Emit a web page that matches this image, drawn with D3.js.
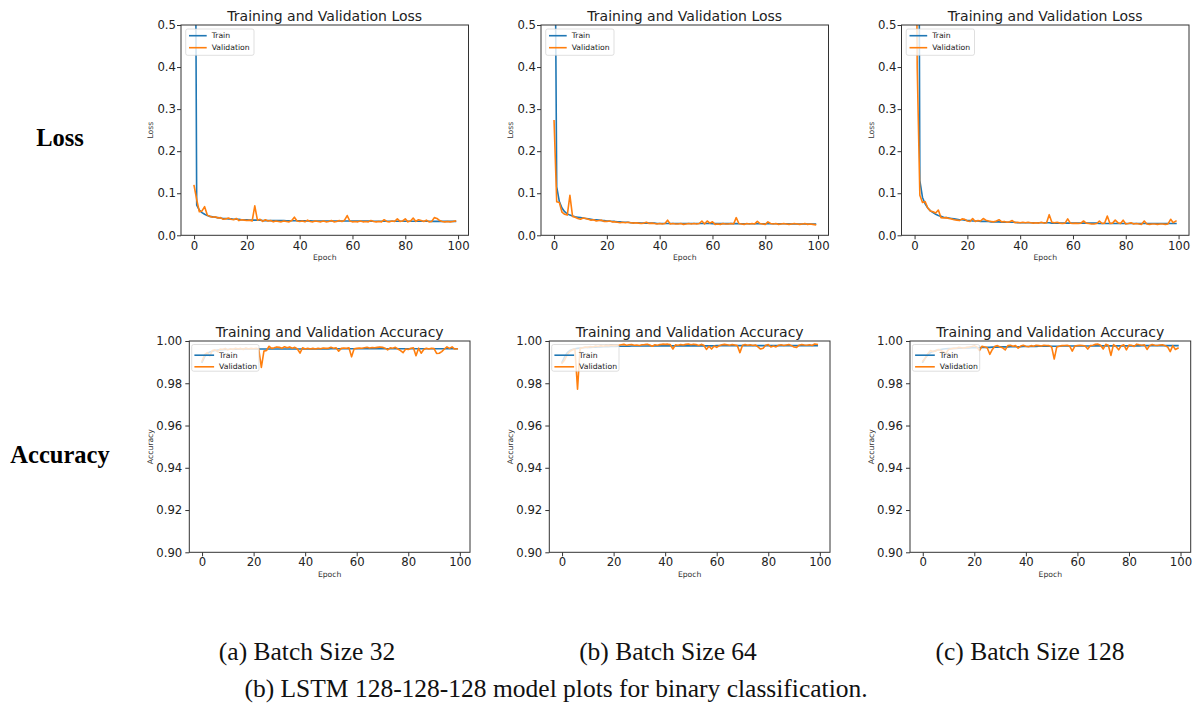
<!DOCTYPE html>
<html>
<head>
<meta charset="utf-8">
<script src="https://cdn.jsdelivr.net/npm/d3@7"></script>
<style>
html,body{margin:0;padding:0;background:#fff;}
svg{display:block;}
</style>
</head>
<body>
<svg id="chart" width="1202" height="708"></svg>
<script>
// ---------------- DATA ----------------
const epochs = d3.range(100);
const xTicks = [0, 20, 40, 60, 80, 100];
const lossTicks = [0.0, 0.1, 0.2, 0.3, 0.4, 0.5];
const accTicks = [0.90, 0.92, 0.94, 0.96, 0.98, 1.00];
const seriesNames = ["Train", "Validation"];
const batchCaptions = ["(a) Batch Size 32", "(b) Batch Size 64", "(c) Batch Size 128"];
const rowLabels = ["Loss", "Accuracy"];
const figureCaption = "(b) LSTM 128-128-128 model plots for binary classification.";

// Loss — batch 32
const lossTrainA = [1.50,0.072,0.060,0.054,0.050,0.047,0.045,0.044,0.043,0.042,
0.041,0.040,0.040,0.039,0.039,0.038,0.038,0.038,0.037,0.037,
0.037,0.036,0.036,0.036,0.036,0.036,0.035,0.035,0.035,0.035,
0.035,0.035,0.035,0.035,0.035,0.0345,0.0345,0.0345,0.0345,0.0345,
0.0342,0.0342,0.0342,0.0342,0.0342,0.034,0.034,0.034,0.034,0.034,
0.034,0.034,0.034,0.034,0.034,0.034,0.034,0.034,0.034,0.034,
0.0338,0.0338,0.0338,0.0338,0.0338,0.0338,0.0338,0.0338,0.0335,0.0335,
0.0335,0.0335,0.0335,0.0335,0.0335,0.0335,0.0335,0.0335,0.0335,0.0335,
0.0333,0.0333,0.0333,0.0333,0.0333,0.0333,0.0333,0.0333,0.0333,0.0333,
0.033,0.033,0.033,0.033,0.033,0.033,0.033,0.033,0.033,0.033];
const lossValA = [0.118,0.085,0.056,0.058,0.068,0.048,0.045,0.043,0.044,0.041,
0.042,0.038,0.039,0.041,0.038,0.037,0.040,0.035,0.037,0.036,
0.035,0.036,0.034,0.070,0.036,0.038,0.033,0.037,0.034,0.035,
0.032,0.034,0.033,0.032,0.034,0.033,0.032,0.035,0.043,0.034,
0.033,0.034,0.032,0.036,0.033,0.032,0.034,0.033,0.032,0.034,
0.032,0.033,0.035,0.032,0.033,0.035,0.033,0.036,0.047,0.034,
0.032,0.033,0.032,0.034,0.032,0.033,0.032,0.035,0.033,0.032,
0.033,0.032,0.037,0.033,0.032,0.034,0.033,0.039,0.033,0.034,
0.039,0.032,0.034,0.041,0.033,0.037,0.035,0.033,0.036,0.032,
0.033,0.042,0.040,0.035,0.033,0.032,0.033,0.032,0.033,0.034];

// Loss — batch 64
const lossTrainB = [1.10,0.115,0.080,0.065,0.056,0.051,0.048,0.046,0.044,0.043,
0.042,0.041,0.040,0.039,0.038,0.037,0.037,0.036,0.035,0.035,
0.034,0.034,0.033,0.033,0.032,0.032,0.031,0.031,0.031,0.030,
0.030,0.030,0.030,0.029,0.029,0.029,0.029,0.029,0.029,0.028,
0.028,0.028,0.028,0.028,0.028,0.028,0.028,0.028,0.028,0.028,
0.028,0.028,0.028,0.028,0.028,0.028,0.028,0.028,0.028,0.028,
0.0278,0.0278,0.0278,0.0278,0.0278,0.0278,0.0278,0.0278,0.0278,0.0278,
0.0275,0.0275,0.0275,0.0275,0.0275,0.0275,0.0275,0.0275,0.0275,0.0275,
0.0273,0.0273,0.0273,0.0273,0.0273,0.0273,0.0273,0.0273,0.0273,0.0273,
0.027,0.027,0.027,0.027,0.027,0.027,0.027,0.027,0.027,0.027];
const lossValB = [0.272,0.080,0.078,0.055,0.050,0.048,0.095,0.045,0.043,0.040,
0.038,0.041,0.040,0.038,0.036,0.037,0.034,0.035,0.036,0.033,
0.033,0.034,0.032,0.032,0.031,0.030,0.031,0.030,0.031,0.030,
0.029,0.030,0.029,0.028,0.029,0.031,0.028,0.029,0.028,0.027,
0.028,0.027,0.028,0.036,0.027,0.028,0.027,0.027,0.028,0.026,
0.027,0.028,0.027,0.028,0.027,0.028,0.034,0.027,0.034,0.029,
0.032,0.026,0.027,0.026,0.028,0.027,0.027,0.028,0.027,0.042,
0.028,0.027,0.026,0.028,0.027,0.028,0.027,0.033,0.028,0.027,
0.026,0.032,0.028,0.027,0.028,0.026,0.027,0.028,0.027,0.026,
0.027,0.028,0.027,0.026,0.027,0.028,0.026,0.027,0.026,0.025];

// Loss — batch 128
const lossTrainC = [5.00,2.00,0.130,0.090,0.075,0.065,0.058,0.054,0.050,0.047,
0.045,0.043,0.042,0.041,0.040,0.039,0.038,0.037,0.037,0.036,
0.035,0.035,0.034,0.034,0.034,0.033,0.033,0.033,0.033,0.032,
0.032,0.032,0.032,0.031,0.031,0.031,0.031,0.031,0.031,0.030,
0.030,0.030,0.030,0.030,0.030,0.030,0.030,0.030,0.030,0.030,
0.030,0.030,0.029,0.029,0.029,0.029,0.029,0.029,0.029,0.029,
0.029,0.029,0.029,0.029,0.029,0.029,0.029,0.029,0.029,0.029,
0.028,0.028,0.028,0.028,0.028,0.028,0.028,0.028,0.028,0.028,
0.028,0.028,0.028,0.028,0.028,0.028,0.028,0.028,0.028,0.028,
0.028,0.028,0.028,0.028,0.028,0.028,0.028,0.028,0.028,0.028];
const lossValC = [1.40,0.40,0.095,0.078,0.080,0.065,0.058,0.056,0.053,0.060,
0.042,0.041,0.042,0.040,0.039,0.037,0.036,0.035,0.039,0.038,
0.034,0.033,0.040,0.033,0.035,0.034,0.040,0.036,0.034,0.033,
0.032,0.034,0.037,0.032,0.033,0.031,0.032,0.035,0.030,0.031,
0.030,0.031,0.030,0.031,0.030,0.029,0.030,0.029,0.031,0.029,
0.030,0.049,0.031,0.030,0.031,0.029,0.028,0.029,0.039,0.029,
0.028,0.029,0.028,0.029,0.034,0.029,0.028,0.027,0.027,0.028,
0.034,0.028,0.029,0.046,0.028,0.029,0.036,0.030,0.028,0.036,
0.027,0.028,0.030,0.027,0.028,0.027,0.026,0.034,0.027,0.026,
0.027,0.027,0.026,0.027,0.027,0.026,0.027,0.038,0.030,0.034];

// Accuracy — batch 32
const accTrainA = [0.9900,0.9925,0.9940,0.9948,0.9952,0.9955,0.9957,0.9958,0.9959,0.9960,
0.9960,0.9961,0.9961,0.9961,0.9961,0.9962,0.9962,0.9962,0.9962,0.9962,
0.9962,0.9962,0.9962,0.9962,0.9962,0.9962,0.9962,0.9962,0.9962,0.9962,
0.9962,0.9962,0.9962,0.9962,0.9962,0.9962,0.9962,0.9962,0.9962,0.9962,
0.9962,0.9962,0.9962,0.9962,0.9962,0.9962,0.9962,0.9962,0.9962,0.9962,
0.9963,0.9963,0.9963,0.9963,0.9963,0.9963,0.9963,0.9963,0.9963,0.9963,
0.9963,0.9963,0.9963,0.9963,0.9963,0.9963,0.9963,0.9963,0.9963,0.9963,
0.9963,0.9963,0.9963,0.9963,0.9963,0.9963,0.9963,0.9963,0.9963,0.9963,
0.9963,0.9963,0.9963,0.9963,0.9963,0.9963,0.9963,0.9963,0.9963,0.9963,
0.9963,0.9963,0.9963,0.9963,0.9963,0.9963,0.9963,0.9963,0.9963,0.9963];
const accValA = [0.9905,0.9935,0.9945,0.9930,0.9955,0.9958,0.9950,0.9962,0.9960,0.9965,
0.9958,0.9963,0.9960,0.9966,0.9962,0.9965,0.9960,0.9967,0.9962,0.9965,
0.9963,0.9966,0.9962,0.9875,0.9952,0.9955,0.9975,0.9965,0.9968,0.9972,
0.9970,0.9966,0.9973,0.9968,0.9972,0.9966,0.9970,0.9962,0.9943,0.9968,
0.9962,0.9966,0.9962,0.9965,0.9962,0.9966,0.9963,0.9967,0.9965,0.9966,
0.9970,0.9966,0.9968,0.9952,0.9965,0.9967,0.9966,0.9968,0.9925,0.9963,
0.9965,0.9967,0.9966,0.9968,0.9970,0.9967,0.9969,0.9968,0.9970,0.9972,
0.9970,0.9966,0.9958,0.9968,0.9966,0.9970,0.9962,0.9955,0.9945,0.9962,
0.9960,0.9966,0.9968,0.9930,0.9966,0.9942,0.9960,0.9966,0.9962,0.9966,
0.9964,0.9941,0.9942,0.9950,0.9962,0.9972,0.9965,0.9972,0.9962,0.9963];

// Accuracy — batch 64
const accTrainB = [0.9900,0.9925,0.9945,0.9955,0.9960,0.9963,0.9965,0.9967,0.9968,0.9969,
0.9970,0.9970,0.9971,0.9971,0.9972,0.9972,0.9973,0.9973,0.9973,0.9974,
0.9974,0.9974,0.9975,0.9975,0.9975,0.9975,0.9975,0.9976,0.9976,0.9976,
0.9976,0.9976,0.9976,0.9976,0.9977,0.9977,0.9977,0.9977,0.9977,0.9977,
0.9977,0.9977,0.9977,0.9977,0.9977,0.9977,0.9977,0.9977,0.9977,0.9977,
0.9977,0.9977,0.9977,0.9977,0.9977,0.9977,0.9977,0.9977,0.9977,0.9977,
0.9978,0.9978,0.9978,0.9978,0.9978,0.9978,0.9978,0.9978,0.9978,0.9978,
0.9978,0.9978,0.9978,0.9978,0.9978,0.9978,0.9978,0.9978,0.9978,0.9978,
0.9978,0.9978,0.9978,0.9978,0.9978,0.9978,0.9978,0.9978,0.9978,0.9978,
0.9978,0.9978,0.9978,0.9978,0.9978,0.9978,0.9978,0.9978,0.9978,0.9978];
const accValB = [0.9895,0.9910,0.9935,0.9950,0.9958,0.9962,0.9772,0.9965,0.9968,0.9972,
0.9970,0.9974,0.9972,0.9976,0.9974,0.9978,0.9975,0.9979,0.9977,0.9980,
0.9978,0.9979,0.9980,0.9982,0.9984,0.9980,0.9982,0.9983,0.9980,0.9981,
0.9979,0.9982,0.9983,0.9985,0.9981,0.9975,0.9982,0.9980,0.9983,0.9985,
0.9984,0.9985,0.9983,0.9962,0.9982,0.9980,0.9983,0.9981,0.9984,0.9986,
0.9982,0.9985,0.9983,0.9979,0.9984,0.9980,0.9960,0.9975,0.9962,0.9976,
0.9970,0.9978,0.9982,0.9984,0.9982,0.9980,0.9983,0.9981,0.9978,0.9945,
0.9980,0.9983,0.9980,0.9982,0.9979,0.9981,0.9972,0.9962,0.9966,0.9980,
0.9983,0.9972,0.9976,0.9972,0.9980,0.9982,0.9979,0.9981,0.9983,0.9978,
0.9972,0.9970,0.9980,0.9983,0.9981,0.9980,0.9982,0.9979,0.9986,0.9984];

// Accuracy — batch 128
const accTrainC = [0.9900,0.9920,0.9935,0.9945,0.9950,0.9955,0.9958,0.9960,0.9962,0.9963,
0.9964,0.9964,0.9965,0.9965,0.9966,0.9966,0.9967,0.9967,0.9967,0.9968,
0.9968,0.9968,0.9969,0.9969,0.9970,0.9970,0.9970,0.9971,0.9971,0.9971,
0.9972,0.9972,0.9972,0.9972,0.9973,0.9973,0.9973,0.9973,0.9973,0.9974,
0.9974,0.9974,0.9974,0.9974,0.9974,0.9975,0.9975,0.9975,0.9975,0.9975,
0.9975,0.9975,0.9975,0.9975,0.9976,0.9976,0.9976,0.9976,0.9976,0.9976,
0.9976,0.9976,0.9976,0.9976,0.9976,0.9976,0.9976,0.9977,0.9977,0.9977,
0.9977,0.9977,0.9977,0.9977,0.9977,0.9977,0.9977,0.9977,0.9977,0.9977,
0.9977,0.9977,0.9977,0.9977,0.9977,0.9978,0.9978,0.9978,0.9978,0.9978,
0.9978,0.9978,0.9978,0.9978,0.9978,0.9978,0.9978,0.9978,0.9978,0.9978];
const accValC = [0.9905,0.9920,0.9940,0.9955,0.9950,0.9952,0.9960,0.9955,0.9948,0.9942,
0.9960,0.9963,0.9965,0.9966,0.9970,0.9968,0.9966,0.9970,0.9972,0.9974,
0.9978,0.9972,0.9955,0.9975,0.9972,0.9968,0.9937,0.9960,0.9975,0.9978,
0.9972,0.9968,0.9958,0.9978,0.9980,0.9975,0.9978,0.9966,0.9976,0.9980,
0.9975,0.9973,0.9978,0.9975,0.9980,0.9978,0.9976,0.9980,0.9979,0.9978,
0.9972,0.9915,0.9972,0.9975,0.9978,0.9979,0.9980,0.9976,0.9952,0.9976,
0.9978,0.9980,0.9979,0.9976,0.9962,0.9978,0.9980,0.9984,0.9985,0.9980,
0.9962,0.9984,0.9980,0.9932,0.9983,0.9974,0.9958,0.9978,0.9982,0.9958,
0.9981,0.9980,0.9974,0.9985,0.9982,0.9980,0.9982,0.9960,0.9978,0.9983,
0.9980,0.9979,0.9981,0.9982,0.9978,0.9972,0.9950,0.9978,0.9960,0.9966];

// ---------------- DRAWING ----------------
const svg = d3.select("#chart");
const colors = ["#1f77b4", "#ff7f0e"];
const tickFont = "'DejaVu Sans', sans-serif";

const rows = [
  { title: "Training and Validation Loss", ylabel: "Loss", ticks: lossTicks, domain: [0, 0.5], fmt: d3.format(".1f"),
    lefts: [181, 541, 901.5], width: 287.5, top: 25, height: 210.3,
    data: [[lossTrainA, lossValA], [lossTrainB, lossValB], [lossTrainC, lossValC]],
    titleBase: 20.5, xPad: 2.2, yPad: 1.0, ylabelOff: 30.3, xlabelBase: 260,
    leg: { dx: 4.7, dy: 4, w: 68.3, h: 26.3, l1: 3.3, l2: 21, tx: 26, r1: 6.7, r2: 18.7 } },
  { title: "Training and Validation Accuracy", ylabel: "Accuracy", ticks: accTicks, domain: [0.9, 1.0], fmt: d3.format(".2f"),
    lefts: [189.3, 549.3, 910], width: 280.7, top: 341, height: 211.3,
    data: [[accTrainA, accValA], [accTrainB, accValB], [accTrainC, accValC]],
    titleBase: 336.7, xPad: 1.0, yPad: 3.0, ylabelOff: 38.6, xlabelBase: 576.7,
    leg: { dx: 2.4, dy: 3.5, w: 67.3, h: 26.7, l1: 2.7, l2: 22.4, tx: 27.4, r1: 10.7, r2: 22.3 } }
];

let clipId = 0;
rows.forEach((row, ri) => {
  row.lefts.forEach((left, ci) => {
    const x = d3.scaleLinear().domain([-4.95, 103.95]).range([left, left + row.width]);
    const y = d3.scaleLinear().domain(row.domain).range([row.top + row.height, row.top]);
    const g = svg.append("g");
    const cid = "clip" + (clipId++);
    g.append("clipPath").attr("id", cid).append("rect")
      .attr("x", left).attr("y", row.top).attr("width", row.width).attr("height", row.height);

    // lines
    const line = d3.line().x((d, i) => x(epochs[i])).y(d => y(d));
    const lg = g.append("g").attr("clip-path", `url(#${cid})`);
    row.data[ci].forEach((series, si) => {
      lg.append("path").datum(series)
        .attr("d", line).attr("fill", "none")
        .attr("stroke", colors[si]).attr("stroke-width", 1.6)
        .attr("stroke-linejoin", "round").attr("stroke-linecap", "square");
    });

    // axes
    const xa = g.append("g").attr("transform", `translate(0,${row.top + row.height})`)
      .call(d3.axisBottom(x).tickValues(xTicks).tickSize(4).tickPadding(row.xPad).tickFormat(d3.format("d")));
    const ya = g.append("g").attr("transform", `translate(${left},0)`)
      .call(d3.axisLeft(y).tickValues(row.ticks).tickSize(4).tickPadding(row.yPad).tickFormat(row.fmt));
    [xa, ya].forEach(a => {
      a.select(".domain").remove();
      a.selectAll(".tick line").attr("stroke", "#333").attr("stroke-width", 1);
      a.selectAll(".tick text").attr("fill", "#222").style("font-family", tickFont).style("font-size", "11.7px");
    });

    // spines
    g.append("rect").attr("x", left).attr("y", row.top).attr("width", row.width).attr("height", row.height)
      .attr("fill", "none").attr("stroke", "#333").attr("stroke-width", 1);

    // title
    g.append("text").attr("x", left + row.width / 2).attr("y", row.titleBase)
      .attr("text-anchor", "middle").style("font-family", tickFont).style("font-size", "14px")
      .attr("fill", "#222").text(row.title);
    // axis labels
    g.append("text").attr("x", left + row.width / 2).attr("y", row.xlabelBase)
      .attr("text-anchor", "middle").style("font-family", tickFont).style("font-size", "7.7px")
      .attr("fill", "#333").text("Epoch");
    g.append("text")
      .attr("transform", `translate(${left - row.ylabelOff},${row.top + row.height / 2}) rotate(-90)`)
      .attr("text-anchor", "middle").attr("dy", "0.35em").style("font-family", tickFont).style("font-size", "7.7px")
      .attr("fill", "#333").text(row.ylabel);

    // legend
    const L = row.leg;
    const lx = left + L.dx, ly = row.top + L.dy;
    const leg = g.append("g");
    leg.append("rect").attr("x", lx).attr("y", ly).attr("width", L.w).attr("height", L.h)
      .attr("rx", 2).attr("fill", "#fff").attr("fill-opacity", 0.8)
      .attr("stroke", "#cccccc").attr("stroke-opacity", 0.8).attr("stroke-width", 0.8);
    seriesNames.forEach((name, si) => {
      const yy = ly + (si === 0 ? L.r1 : L.r2);
      leg.append("line").attr("x1", lx + L.l1).attr("x2", lx + L.l2).attr("y1", yy).attr("y2", yy)
        .attr("stroke", colors[si]).attr("stroke-width", 1.6);
      leg.append("text").attr("x", lx + L.tx).attr("y", yy).attr("dy", "0.35em")
        .style("font-family", tickFont).style("font-size", "7.7px").attr("fill", "#222").text(name);
    });
  });
});

// row labels
const serif = "'Liberation Serif', 'Times New Roman', serif";
[[60, 146], [60, 463.3]].forEach((p, i) => {
  svg.append("text").attr("x", p[0]).attr("y", p[1]).attr("text-anchor", "middle")
    .style("font-family", serif).style("font-weight", "bold").style("font-size", "24.5px")
    .attr("fill", "#000").text(rowLabels[i]);
});

// captions
[307, 668, 1030].forEach((cx, i) => {
  svg.append("text").attr("x", cx).attr("y", 660).attr("text-anchor", "middle")
    .style("font-family", serif).style("font-size", "25.5px").attr("fill", "#111").text(batchCaptions[i]);
});
svg.append("text").attr("x", 556).attr("y", 697).attr("text-anchor", "middle")
  .style("font-family", serif).style("font-size", "25.5px").attr("fill", "#111").text(figureCaption);
</script>
</body>
</html>
